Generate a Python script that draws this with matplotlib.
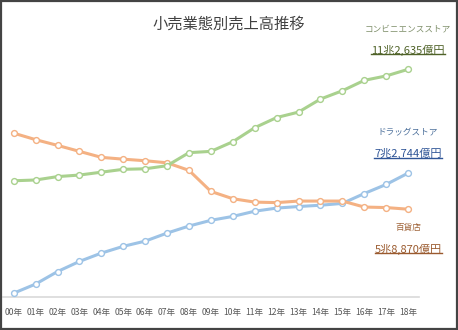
import matplotlib
matplotlib.use("Agg")
import matplotlib.pyplot as plt
from matplotlib.lines import Line2D
from matplotlib.patches import Rectangle

plt.rcParams['font.family'] = ['Noto Sans CJK JP', 'DejaVu Sans']

years = ['00年', '01年', '02年', '03年', '04年', '05年', '06年', '07年', '08年', '09年',
         '10年', '11年', '12年', '13年', '14年', '15年', '16年', '17年', '18年']
# 売上高（億円）
conveni = [69800, 70100, 71400, 72000, 73100, 74200, 74400, 75600, 80600, 81100,
           84800, 90200, 94100, 96200, 101200, 104400, 108400, 110100, 112635]
depart = [88100, 85600, 83400, 81100, 78800, 78100, 77500, 76700, 73800, 65700,
          62900, 61600, 61400, 62000, 62000, 62000, 59700, 59500, 58870]
drug = [26600, 30100, 34900, 38800, 42000, 44600, 46600, 49700, 52400, 54600,
        56100, 58100, 59300, 59900, 60400, 61100, 64900, 68400, 72744]

c_green, c_orange, c_blue = '#a9d18e', '#f4b183', '#9dc3e6'

fig = plt.figure(figsize=(4.58, 3.30), dpi=100)
ax = fig.add_axes([0.006, 0.099, 0.909, 0.749])
x = range(len(years))
for vals, col in [(drug, c_blue), (depart, c_orange), (conveni, c_green)]:
    ax.plot(x, vals, color=col, lw=2.2, marker='o', ms=4.2,
            mfc='white', mec=col, mew=1.0, zorder=3)

ax.set_xlim(-0.5, len(years) - 0.5)
ax.set_ylim(25000, 120000)
ax.set_yticks([])
ax.set_xticks(list(x))
ax.set_xticklabels(years, fontsize=6.2, color='#595959')
ax.tick_params(axis='x', length=0, pad=8)
for s in ['top', 'right', 'left']:
    ax.spines[s].set_visible(False)
ax.spines['bottom'].set_color('#d9d9d9')
ax.spines['bottom'].set_linewidth(1.2)

fig.text(0.5, 0.927, '小売業態別売上高推移', ha='center', va='center',
         fontsize=11, color='#404040')

labels = [
    ('コンビニエンスストア', '11兆2,635億円', 0.912, 0.848, '#7f8f6a', '#4f6228'),
    ('ドラッグストア', '7兆2,744億円', 0.598, 0.535, '#4a6e9a', '#2f5597'),
    ('百貨店', '5兆8,870億円', 0.311, 0.245, '#a0653a', '#9a5a2e'),
]
texts = []
for name, val, y1, y2, c1, c2 in labels:
    fig.text(0.891, y1, name, ha='center', va='center', fontsize=6.2, color=c1)
    t = fig.text(0.891, y2, val, ha='center', va='center', fontsize=8, color=c2)
    texts.append((t, c2))

fig.canvas.draw()
r = fig.canvas.get_renderer()
for t, c in texts:
    bb = t.get_window_extent(r).transformed(fig.transFigure.inverted())
    fig.add_artist(Line2D([bb.x0, bb.x1], [bb.y0 + 0.004, bb.y0 + 0.004],
                          transform=fig.transFigure, color=c, lw=1.0))

fig.add_artist(Rectangle((0.002, 0.003), 0.996, 0.994, transform=fig.transFigure,
                         fill=False, ec='#444444', lw=1.6))

fig.savefig('out.png', dpi=100)
